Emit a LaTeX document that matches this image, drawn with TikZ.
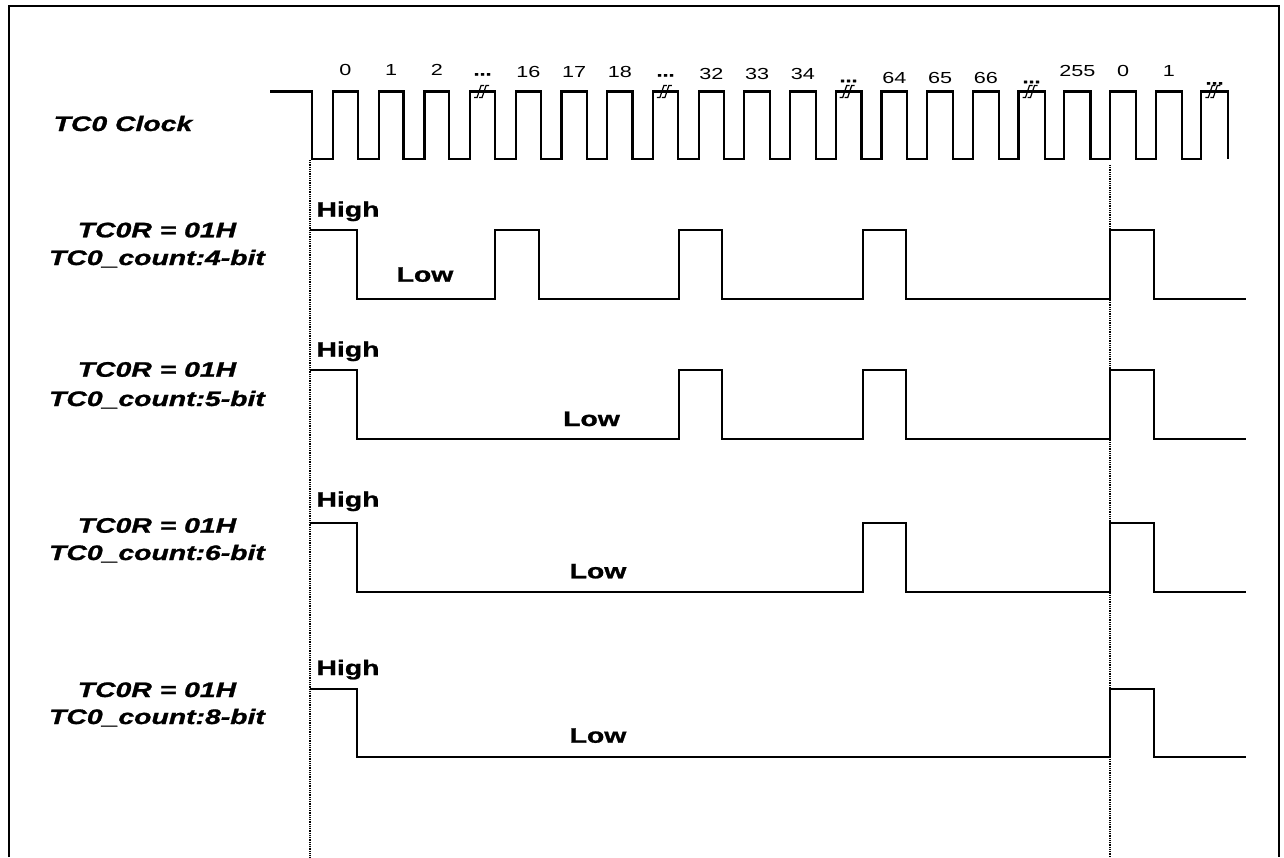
\documentclass[tikz,border=0pt]{standalone}
\usepackage{fontspec}
\setmainfont{Liberation Sans}[BoldFeatures={FakeBold=1},BoldItalicFeatures={FakeBold=1}]
\newcommand{\widetxt}[1]{\scalebox{1.35}[1]{#1}}

\begin{document}
\begin{tikzpicture}[x=1pt,y=-1pt,
  wave/.style={black,line width=2.2pt,line join=miter},
  guide/.style={black,line width=1.2pt,dash pattern=on 1pt off 0.8pt},
  sig/.style={font=\fontsize{21}{24}\selectfont\bfseries\itshape,anchor=base,inner sep=0pt},
  lvl/.style={font=\fontsize{21}{24}\selectfont\bfseries,anchor=base,inner sep=0pt},
  num/.style={font=\fontsize{16}{18}\selectfont,inner sep=0pt},
  brk/.style={black,line width=1.2pt}]
\useasboundingbox (0,0) rectangle (1284,857);
% Frame
\draw[black,line width=2.2pt] (9,857) -- (9,6) -- (1279,6) -- (1279,857);

% TC0 Clock
\node[sig] (clk) at (123,131) {\widetxt{TC0 Clock}};
\draw[wave] (270,91.5) -- (311.7,91.5) -- (311.7,159)
  \foreach \k in {0,...,19} { -- ({333+45.7*\k},159) -- ({333+45.7*\k},91.5) -- ({357.7+45.8*\k},91.5) -- ({357.7+45.8*\k},159) };
% Clock counts
\foreach \k/\txt/\ly in {0/0/69.5,1/1/69.5,2/2/69.5,4/16/71.7,5/17/71.7,6/18/71.7,8/32/74,9/33/74,10/34/74,12/64/77.8,13/65/77.8,14/66/77.8,16/255/70.5,17/0/70.5,18/1/70.5}
  \node[num] (tick\k) at ({345.35+45.75*\k},\ly) {\widetxt{\txt}};
% Skipped counts
\foreach \k/\ly in {3/74,7/75,11/80.7,15/81.7,19/83} {
  \node[num,anchor=base,font=\fontsize{16}{18}\selectfont\bfseries] (gap\k) at ({345.35+45.75*\k},\ly+1.5) {\widetxt{...}};
  \draw[brk] ({333+45.7*\k+4},97.5) -- ++(3,0) -- ++(4,-12) -- ++(3,0);
  \draw[brk] ({333+45.7*\k+9},97.5) -- ++(3,0) -- ++(4,-12) -- ++(3,0);
}

% Guides at count 0
\draw[guide] (310,160) -- (310,857);
\draw[guide] (1110,165) -- (1110,857);

% TC0_count:4-bit
\node[sig] (reg1) at (157,237.3) {\widetxt{TC0R = 01H}};
\node[sig] (bits1) at (157,265) {\widetxt{TC0\_count:4-bit}};
\node[lvl] (hi1) at (348,216.7) {\widetxt{High}};
\node[lvl] (lo1) at (425,281.7) {\widetxt{Low}};
\draw[wave] (310,230) -- (357,230) -- (357,299) -- (495,299) -- (495,230) -- (539,230) -- (539,299) -- (679,299) -- (679,230) -- (722,230) -- (722,299) -- (863,299) -- (863,230) -- (906,230) -- (906,299) -- (1110,299) -- (1110,230) -- (1154,230) -- (1154,299) -- (1246,299);

% TC0_count:5-bit
\node[sig] (reg2) at (157,376.7) {\widetxt{TC0R = 01H}};
\node[sig] (bits2) at (157,406) {\widetxt{TC0\_count:5-bit}};
\node[lvl] (hi2) at (348,356.7) {\widetxt{High}};
\node[lvl] (lo2) at (591.5,426) {\widetxt{Low}};
\draw[wave] (310,370) -- (357,370) -- (357,439) -- (679,439) -- (679,370) -- (722,370) -- (722,439) -- (863,439) -- (863,370) -- (906,370) -- (906,439) -- (1110,439) -- (1110,370) -- (1154,370) -- (1154,439) -- (1246,439);

% TC0_count:6-bit
\node[sig] (reg3) at (157,532.7) {\widetxt{TC0R = 01H}};
\node[sig] (bits3) at (157,560) {\widetxt{TC0\_count:6-bit}};
\node[lvl] (hi3) at (348,506.7) {\widetxt{High}};
\node[lvl] (lo3) at (598,578.3) {\widetxt{Low}};
\draw[wave] (310,523) -- (357,523) -- (357,592) -- (863,592) -- (863,523) -- (906,523) -- (906,592) -- (1110,592) -- (1110,523) -- (1154,523) -- (1154,592) -- (1246,592);

% TC0_count:8-bit
\node[sig] (reg4) at (157,697) {\widetxt{TC0R = 01H}};
\node[sig] (bits4) at (157,724) {\widetxt{TC0\_count:8-bit}};
\node[lvl] (hi4) at (348,675) {\widetxt{High}};
\node[lvl] (lo4) at (598,742.7) {\widetxt{Low}};
\draw[wave] (310,689) -- (357,689) -- (357,757) -- (1110,757) -- (1110,689) -- (1154,689) -- (1154,757) -- (1246,757);

\end{tikzpicture}
\end{document}
